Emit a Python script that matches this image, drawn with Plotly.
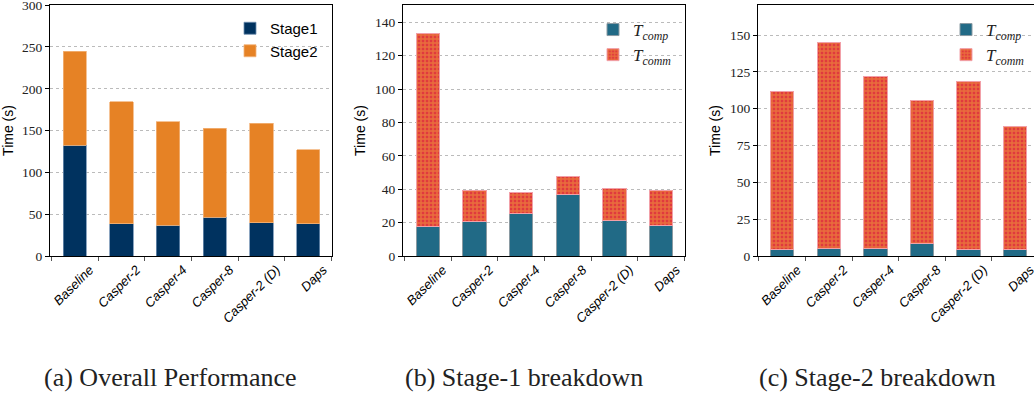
import plotly.graph_objects as go

categories = ["Baseline", "Casper-2", "Casper-4", "Casper-8", "Casper-2 (D)", "Daps"]
stage1 = [132.5, 38.5, 37.0, 46.5, 39.5, 38.5]
stage2 = [112.5, 146.0, 123.5, 106.5, 119.5, 88.5]
s1_comp = [17.4, 20.8, 25.4, 36.6, 21.4, 18.0]
s1_comm = [116.0, 18.4, 12.4, 11.0, 19.0, 21.2]
s2_comp = [4.1, 4.8, 5.4, 8.2, 4.5, 4.1]
s2_comm = [107.8, 140.2, 116.7, 97.6, 114.2, 84.0]
captions = ["(a) Overall Performance", "(b) Stage-1 breakdown", "(c) Stage-2 breakdown"]

W, H = 1034, 393
NAVY = "#00325f"
ORANGE = "#e68225"
TEAL = "#216a86"
RED = "#e03a3e"
HATCH = "#f2a23a"

SERIF = "Liberation Serif"
SANS = "Liberation Sans"

fig = go.Figure()

# panel a
fig.add_bar(x=categories, y=stage1, name="Stage1", width=0.5,
            marker=dict(color=NAVY, line=dict(color="#6f8fb0", width=0.8)),
            xaxis="x", yaxis="y", legend="legend")
fig.add_bar(x=categories, y=stage2, name="Stage2", width=0.5,
            marker=dict(color=ORANGE, line=dict(color="#f3b47c", width=0.8)),
            xaxis="x", yaxis="y", legend="legend")

TCOMP = "<i>T</i><sub><i>comp</i></sub>"
TCOMM = "<i>T</i><sub><i>comm</i></sub>"
comm_marker = dict(color=RED, line=dict(color="#f2a0a8", width=1),
                   pattern=dict(shape="+", fgcolor=HATCH, bgcolor=RED, size=4, solidity=0.6))
comp_marker = dict(color=TEAL, line=dict(color="#8a9aa2", width=1))

# panel b
fig.add_bar(x=categories, y=s1_comp, name=TCOMP, width=0.5, marker=comp_marker,
            xaxis="x2", yaxis="y2", legend="legend2")
fig.add_bar(x=categories, y=s1_comm, name=TCOMM, width=0.5, marker=comm_marker,
            xaxis="x2", yaxis="y2", legend="legend2")
# panel c
fig.add_bar(x=categories, y=s2_comp, name=TCOMP, width=0.5, marker=comp_marker,
            xaxis="x3", yaxis="y3", legend="legend3")
fig.add_bar(x=categories, y=s2_comm, name=TCOMM, width=0.5, marker=comm_marker,
            xaxis="x3", yaxis="y3", legend="legend3")

ydom = [(H - 256) / H, (H - 5) / H]
xdoms = [[50 / W, 332 / W], [403 / W, 685 / W], [758 / W, 1.0]]
xranges = [[-0.53, 5.51], [-0.53, 5.51], [-0.52, -0.52 + 276 / 46.6]]
yranges = [[0, 300.2], [0, 150.4], [0, 170.4]]
ydticks = [50, 20, 25]

for i in range(3):
    sfx = "" if i == 0 else str(i + 1)
    fig.update_layout({
        "xaxis" + sfx: dict(
            domain=xdoms[i], anchor="y" + sfx, type="category",
            categoryorder="array", categoryarray=categories,
            range=xranges[i], tickson="boundaries", ticks="outside", ticklen=4,
            tickcolor="#555", tickangle=-45, ticklabelshift=15, ticklabelstandoff=0,
            ticklabeloverflow="allow",
            tickfont=dict(family=SANS, size=13, color="black", style="italic"),
            showline=True, linecolor="black", linewidth=1.2, mirror=True,
            showgrid=False, zeroline=False, automargin=False,
        ),
        "yaxis" + sfx: dict(
            domain=ydom, anchor="x" + sfx, range=yranges[i], dtick=ydticks[i], tick0=0,
            ticks="outside", ticklen=4, tickcolor="black", ticklabeloverflow="allow",
            tickfont=dict(family=SERIF, size=13.5, color="#222"),
            showline=True, linecolor="black", linewidth=1.2, mirror=(i < 2),
            showgrid=True, gridcolor="#bbbbbb", griddash="dot", gridwidth=0.8,
            zeroline=False, automargin=False,
            title=dict(text="Time (s)", font=dict(family=SANS, size=14, color="black"), standoff=6),
        ),
    })

leg_common = dict(bgcolor="rgba(0,0,0,0)", borderwidth=0, traceorder="normal",
                  xanchor="left", yanchor="top", tracegroupgap=0)
fig.update_layout(
    legend=dict(x=(272 - 42) / W, y=1 - 12 / H, font=dict(family=SANS, size=15, color="black"), **leg_common),
    legend2=dict(x=(635 - 42) / W, y=1 - 12 / H, font=dict(family=SERIF, size=17, color="#222"), **leg_common),
    legend3=dict(x=(988 - 42) / W, y=1 - 12 / H, font=dict(family=SERIF, size=17, color="#222"), **leg_common),
)

cap_x = [170, 524, 877]
for cx, txt in zip(cap_x, captions):
    fig.add_annotation(x=cx / W, y=(H - 377) / H, xref="paper", yref="paper",
                       text=txt, showarrow=False, xanchor="center", yanchor="middle",
                       font=dict(family=SERIF, size=26, color="#222"))

fig.update_layout(
    width=W, height=H, barmode="stack", bargap=0.5,
    margin=dict(l=0, r=0, t=0, b=0),
    plot_bgcolor="white", paper_bgcolor="white",
)

fig.write_html("out.html", config={"displayModeBar": False},
               post_script="document.body.style.margin='0';document.body.style.overflow='hidden';")
